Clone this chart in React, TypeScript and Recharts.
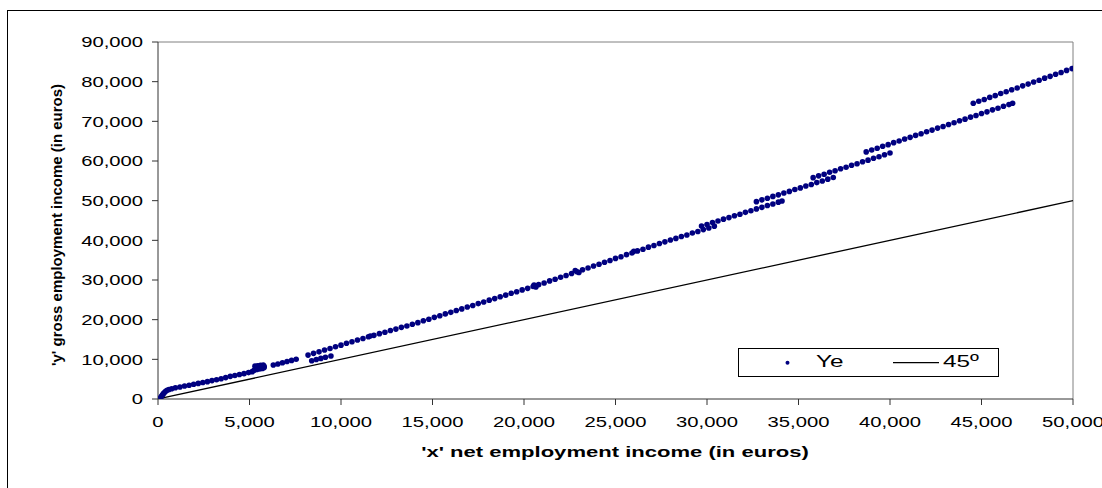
import React from "react";
import { ScatterChart, Scatter, XAxis, YAxis, ReferenceLine, Legend, Label } from "recharts";

type Pt = [number, number];

// net employment income (x) against gross employment income (y), euros
const lowIncome: Pt[] = [
  [150, 450], [200, 760], [250, 1040], [300, 1360], [350, 1640], [420, 1950], [500, 2190], [600, 2400],
  [750, 2590], [950, 2820], [1200, 3040], [1450, 3270], [1700, 3470], [1950, 3720], [2200, 3930],
  [2450, 4170], [2700, 4370], [2950, 4640], [3200, 4840], [3450, 5120], [3700, 5390], [3950, 5710],
  [4200, 5940], [4450, 6170], [4700, 6390], [4950, 6660], [5150, 6900],
];
const lowCluster: Pt[] = [
  [5250, 7250], [5400, 7420], [5550, 7560], [5700, 7720], [5800, 7920], [5300, 8280],
  [5450, 8400], [5600, 8470], [5750, 8560], [5800, 8230], [5680, 8060],
];
const midSegment: Pt[] = [
  [6300, 8560], [6550, 8830], [6800, 9140], [7050, 9460], [7300, 9730], [7550, 10010],
];
const sideBranch: Pt[] = [
  [8400, 9650], [8650, 9960], [8900, 10240], [9150, 10510], [9450, 10840],
];
const bracket1: Pt[] = [
  [8200, 11070], [8500, 11510], [8800, 11890], [9100, 12350], [9400, 12730], [9700, 13190], [10000, 13580],
  [10300, 14040], [10600, 14420], [10900, 14880], [11200, 15240], [11500, 15680], [11600, 15900], [11800, 16040],
  [12100, 16470], [12400, 16830], [12700, 17270], [13000, 17620], [13300, 18060], [13600, 18420],
  [13900, 18860], [14200, 19250], [14500, 19730], [14800, 20120], [15100, 20590], [15400, 20980],
  [15700, 21460], [16000, 21850], [16300, 22320], [16600, 22720], [16900, 23190], [17200, 23580],
  [17500, 24050], [17800, 24450], [18100, 24920], [18400, 25310], [18700, 25780], [19000, 26180],
  [19300, 26650], [19600, 27040], [19900, 27510], [20200, 27900], [20500, 28380], [20550, 28720],
  [20650, 28260], [20800, 28830], [21100, 29260], [21400, 29770], [21700, 30200], [22000, 30710],
  [22300, 31140], [22600, 31650], [22800, 32380], [22900, 32080], [23000, 31880], [23200, 32590],
  [23500, 33030], [23800, 33540], [24100, 33980], [24400, 34490], [24700, 34930], [25000, 35440],
  [25300, 35870], [25600, 36390], [25900, 36820], [26000, 37250], [26200, 37330], [26500, 37770],
  [26800, 38280], [27100, 38710], [27400, 39220], [27700, 39620], [28000, 40090], [28300, 40490],
  [28600, 40960], [28900, 41360], [29200, 41830], [29500, 42230], [29800, 42710], [30100, 43100],
  [30400, 43580],
];
const bracket2: Pt[] = [
  [29700, 43620], [30000, 44010], [30300, 44480], [30600, 44870], [30900, 45340], [31200, 45730],
  [31500, 46200], [31800, 46590], [32100, 47060], [32400, 47450], [32700, 47920], [33000, 48310],
  [33300, 48780], [33600, 49160], [33900, 49630], [34100, 49900],
];
const bracket3: Pt[] = [
  [32700, 49750], [33000, 50210], [33300, 50600], [33600, 51080], [33900, 51470], [34200, 51950],
  [34500, 52340], [34800, 52820], [35100, 53220], [35400, 53690], [35700, 54090], [36000, 54560],
  [36300, 54960], [36600, 55430], [36900, 55850],
];
const bracket4: Pt[] = [
  [35800, 55800], [36100, 56260], [36400, 56670], [36700, 57150], [37000, 57550], [37300, 58030],
  [37600, 58440], [37900, 58920], [38200, 59320], [38500, 59810], [38800, 60210], [39100, 60690],
  [39400, 61090], [39700, 61580], [40000, 62000],
];
const bracket5: Pt[] = [
  [38700, 62300], [39000, 62780], [39300, 63200], [39600, 63700], [39900, 64120], [40200, 64620],
  [40500, 65040], [40800, 65540], [41100, 65960], [41400, 66460], [41700, 66880], [42000, 67370],
  [42300, 67790], [42600, 68290], [42900, 68710], [43200, 69210], [43500, 69630], [43800, 70130],
  [44100, 70550], [44400, 71050], [44700, 71470], [45000, 71970], [45300, 72390], [45600, 72890],
  [45900, 73310], [46200, 73810], [46500, 74220], [46700, 74550],
];
const bracket6: Pt[] = [
  [44550, 74550], [44850, 75060], [45150, 75500], [45450, 76030], [45750, 76480], [46050, 77000],
  [46350, 77450], [46650, 77980], [46950, 78420], [47250, 78950], [47550, 79390], [47850, 79920],
  [48150, 80370], [48450, 80890], [48750, 81340], [49050, 81870], [49350, 82310], [49650, 82840],
  [49950, 83300],
];
const line45: Pt[] = [[200, 200], [50000, 50000]];

const xTicks = [0, 5000, 10000, 15000, 20000, 25000, 30000, 35000, 40000, 45000, 50000];
const yTicks = [0, 10000, 20000, 30000, 40000, 50000, 60000, 70000, 80000, 90000];

const toRows = (pts: Pt[]) => pts.map(([x, y]) => ({ x, y }));
const yeData = toRows([
  ...lowIncome, ...lowCluster, ...midSegment, ...sideBranch,
  ...bracket1, ...bracket2, ...bracket3, ...bracket4, ...bracket5, ...bracket6,
]);
const diagData = toRows(line45);

const FONT = "'Liberation Sans', Arial, Helvetica, sans-serif";
const NAVY = "#000080";
const fmt = (v: number) => v.toLocaleString("en-US");

// text in this chart is drawn wide, so it gets a horizontal stretch
const YTick = (props: any) => (
  <text transform={`translate(${props.x},${props.y}) scale(1.35,1)`} dy="0.355em" textAnchor="end"
    fontFamily={FONT} fontSize={15} fill="#000">{fmt(props.payload.value)}</text>
);
const XTick = (props: any) => (
  <text transform={`translate(${props.x},${props.y}) scale(1.35,1)`} dy="0.71em" textAnchor="middle"
    fontFamily={FONT} fontSize={15} fill="#000">{fmt(props.payload.value)}</text>
);

const LegendBox = () => (
  <svg width={261} height={29} style={{ display: "block" }}>
    <rect x={0.5} y={0.5} width={260} height={28} fill="#fff" stroke="#000" />
    <circle cx={49.5} cy={14.7} r={2} fill={NAVY} />
    <text transform="translate(78,19.3) scale(1.43,1)" fontFamily={FONT} fontSize={17} fill="#000">Ye</text>
    <line x1={155} x2={201} y1={14.7} y2={14.7} stroke="#000" strokeWidth={1.2} />
    <text transform="translate(205,19.3) scale(1.43,1)" fontFamily={FONT} fontSize={17} fill="#000">45º</text>
  </svg>
);

const Dot = (p: any) => <circle cx={p.cx} cy={p.cy} r={2.8} fill={NAVY} />;

export default function App() {
  return (
    <div style={{ position: "absolute", left: 0, top: 0, width: 1102, height: 488, overflow: "hidden", background: "#fff" }}>
      <div style={{ position: "absolute", left: 7, top: 10, width: 1200, height: 600, border: "1px solid #000" }} />
      <div style={{ position: "absolute", left: 0, top: 0 }}>
        <ScatterChart width={1102} height={488} margin={{ top: 42, right: 29, bottom: 0, left: 0 }}>
          <XAxis type="number" dataKey="x" domain={[0, 50000]} ticks={xTicks} interval={0} height={89}
            tickSize={6} tickMargin={11} stroke="#333" tick={XTick} allowDataOverflow>
            <Label content={() => (
              <text transform="translate(615,457) scale(1.47,1)" textAnchor="middle" fontFamily={FONT}
                fontSize={15} fontWeight="bold" fill="#000">'x' net employment income (in euros)</text>
            )} />
          </XAxis>
          <YAxis type="number" dataKey="y" domain={[0, 90000]} ticks={yTicks} interval={0} width={158}
            tickSize={6} tickMargin={9} stroke="#333" tick={YTick} allowDataOverflow>
            <Label content={() => (
              <text x={62} y={225} transform="rotate(-90, 62, 225)" textAnchor="middle" fontFamily={FONT}
                fontSize={15} fontWeight="bold" fill="#000">'y' gross employment income (in euros)</text>
            )} />
          </YAxis>
          <ReferenceLine y={90000} stroke="#808080" />
          <ReferenceLine x={50000} stroke="#808080" />
          <Scatter name="45º" data={diagData} line={{ stroke: "#000", strokeWidth: 1.3 }} shape={() => <g />}
            isAnimationActive={false} />
          <Scatter name="Ye" data={yeData} shape={Dot} isAnimationActive={false} />
          <Legend layout="horizontal" verticalAlign="middle" align="center"
            wrapperStyle={{ left: 738, top: 348, width: 261, height: 29 }} content={() => <LegendBox />} />
        </ScatterChart>
      </div>
    </div>
  );
}
